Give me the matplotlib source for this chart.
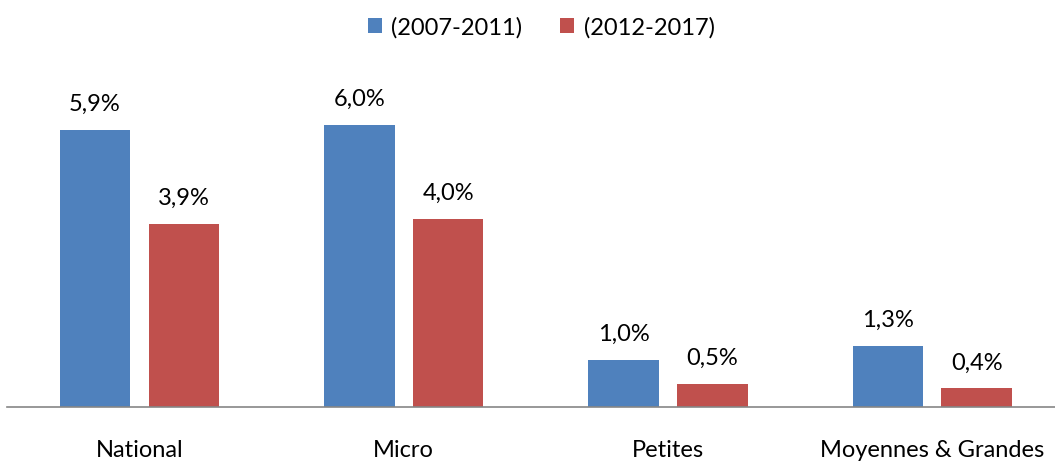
import numpy as np
import matplotlib
matplotlib.use('Agg')
import matplotlib.pyplot as plt

categories = ['National', 'Micro', 'Petites', 'Moyennes & Grandes']
series_names = ['(2007-2011)', '(2012-2017)']
values_2007 = [5.9, 6.0, 1.0, 1.3]
values_2012 = [3.9, 4.0, 0.5, 0.4]
colors = ['#4F81BD', '#C0504D']

plt.rcParams['font.family'] = ['Lato', 'DejaVu Sans']

fig = plt.figure(figsize=(10.55, 4.62), dpi=100)
ax = fig.add_axes([7.3 / 1055, 55 / 462, 1057 / 1055, 329 / 462])

x = np.arange(len(categories))
width = 0.267
offset = 0.168

for vals, name, color, dx in [(values_2007, series_names[0], colors[0], -offset),
                              (values_2012, series_names[1], colors[1], offset)]:
    bars = ax.bar(x + dx, vals, width, color=color, label=name)
    for b, v in zip(bars, vals):
        ax.text(b.get_x() + b.get_width() / 2, v + 0.4, f'{v:.1f}%'.replace('.', ','),
                ha='center', va='baseline', fontsize=17, color='#000000')

ax.set_xlim(-0.5, len(categories) - 0.5)
ax.set_ylim(0, 7)
ax.set_yticks([])
ax.set_xticks(x)
ax.set_xticklabels(categories, fontsize=17)
ax.tick_params(axis='x', length=0, pad=24)
for side in ['top', 'right', 'left']:
    ax.spines[side].set_visible(False)
ax.spines['bottom'].set_color('#868686')
ax.spines['bottom'].set_linewidth(1.2)

fig.legend(loc='upper center', bbox_to_anchor=(0.513, 1.01), ncol=2, frameon=False,
           fontsize=17, handlelength=0.6, handleheight=0.6, handletextpad=0.4,
           columnspacing=1.6)

fig.savefig('out.png', dpi=100)
